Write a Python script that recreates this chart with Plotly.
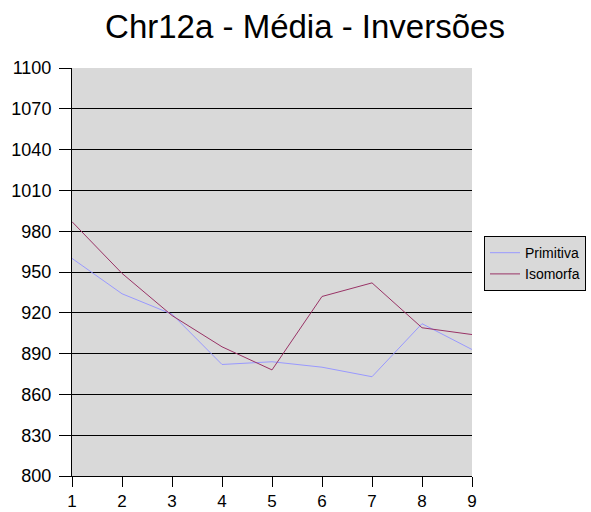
import plotly.graph_objects as go

# Data
categories = [1, 2, 3, 4, 5, 6, 7, 8, 9]
primitiva = [960, 934, 919, 882, 884, 880, 873, 912, 893]
isomorfa = [987, 949, 918, 895, 878, 932, 942, 909, 904]
y_ticks = [800, 830, 860, 890, 920, 950, 980, 1010, 1040, 1070, 1100]

FONT = "Liberation Sans, Arial, sans-serif"

fig = go.Figure()
fig.add_trace(go.Scatter(
    x=categories, y=primitiva, mode="lines", name="Primitiva",
    line=dict(color="#9999ff", width=1),
))
fig.add_trace(go.Scatter(
    x=categories, y=isomorfa, mode="lines", name="Isomorfa",
    line=dict(color="#993366", width=1),
))

fig.update_layout(
    width=591, height=512,
    margin=dict(l=72, r=119, t=68, b=36, autoexpand=False),
    paper_bgcolor="white",
    plot_bgcolor="#d9d9d9",
    font=dict(family=FONT, color="black"),
    title=dict(
        text="Chr12a - Média - Inversões",
        x=305 / 591, xref="container", xanchor="center",
        y=1 - 26 / 512, yref="container", yanchor="middle",
        font=dict(size=33, family=FONT, color="black"),
    ),
    legend=dict(
        x=1.03, y=0.588, xanchor="left", yanchor="top",
        bgcolor="#d9d9d9", bordercolor="black", borderwidth=1,
        font=dict(size=14, family=FONT, color="black"),
        tracegroupgap=0,
    ),
    showlegend=True,
)

fig.update_xaxes(
    range=[1, 9], tickmode="array", tickvals=categories,
    ticktext=[str(c) for c in categories],
    showgrid=False, zeroline=False, automargin=False,
    showline=True, linecolor="black", linewidth=1,
    ticks="outside", ticklen=10, tickcolor="black", tickwidth=1,
    ticklabelstandoff=0,
    tickfont=dict(size=17, family=FONT, color="black"),
)
fig.update_yaxes(
    range=[800, 1100], tickmode="array", tickvals=y_ticks,
    showgrid=True, gridcolor="black", gridwidth=1, zeroline=False,
    automargin=False,
    showline=True, linecolor="black", linewidth=1,
    ticks="outside", ticklen=12, tickcolor="black", tickwidth=1,
    ticklabelstandoff=4,
    tickfont=dict(size=18, family=FONT, color="black"),
)

fig.write_html("out.html")
